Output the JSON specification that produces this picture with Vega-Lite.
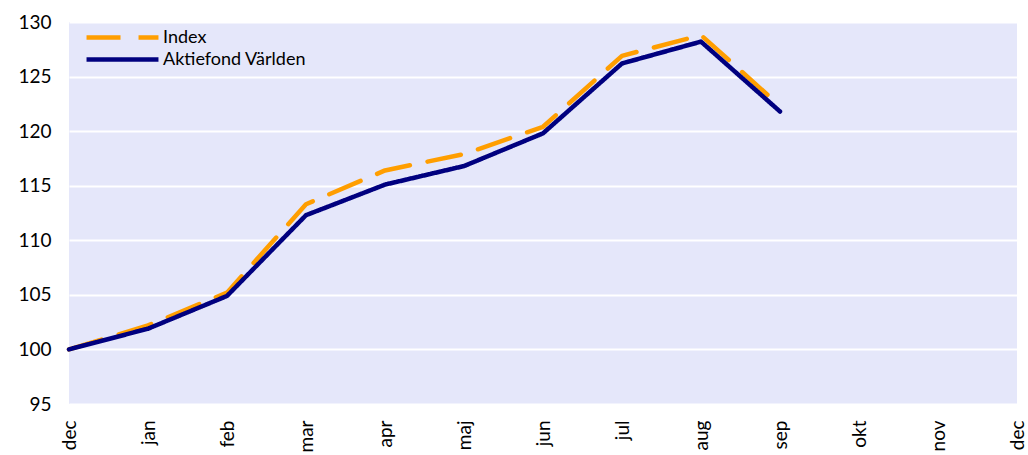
{
  "$schema": "https://vega.github.io/schema/vega-lite/v6.json",
  "autosize": {"type": "none"},
  "padding": {"left": 69, "top": 22, "right": 11, "bottom": 51},
  "width": 948,
  "height": 382,
  "background": "white",
  "view": {"fill": "#E5E7FA", "stroke": null},
  "data": {
    "values": [
      {"t": 0, "serie": "Index", "v": 100.0},
      {"t": 1, "serie": "Index", "v": 102.2},
      {"t": 2, "serie": "Index", "v": 105.2},
      {"t": 3, "serie": "Index", "v": 113.3},
      {"t": 4, "serie": "Index", "v": 116.4},
      {"t": 5, "serie": "Index", "v": 117.9},
      {"t": 6, "serie": "Index", "v": 120.4},
      {"t": 7, "serie": "Index", "v": 126.9},
      {"t": 8, "serie": "Index", "v": 128.8},
      {"t": 9, "serie": "Index", "v": 122.3},
      {"t": 0, "serie": "Aktiefond Världen", "v": 100.0},
      {"t": 1, "serie": "Aktiefond Världen", "v": 101.9},
      {"t": 2, "serie": "Aktiefond Världen", "v": 104.9},
      {"t": 3, "serie": "Aktiefond Världen", "v": 112.3},
      {"t": 4, "serie": "Aktiefond Världen", "v": 115.1},
      {"t": 5, "serie": "Aktiefond Världen", "v": 116.8},
      {"t": 6, "serie": "Aktiefond Världen", "v": 119.8},
      {"t": 7, "serie": "Aktiefond Världen", "v": 126.2},
      {"t": 8, "serie": "Aktiefond Världen", "v": 128.2},
      {"t": 9, "serie": "Aktiefond Världen", "v": 121.8}
    ]
  },
  "mark": {"type": "line", "strokeWidth": 4.5, "strokeCap": "round", "strokeJoin": "round"},
  "encoding": {
    "x": {
      "field": "t", "type": "quantitative",
      "scale": {"domain": [0, 12], "nice": false, "zero": false},
      "axis": {
        "title": null, "values": [0,1,2,3,4,5,6,7,8,9,10,11,12],
        "labelExpr": "['dec','jan','feb','mar','apr','maj','jun','jul','aug','sep','okt','nov','dec'][datum.value]",
        "labelAngle": -90, "labelAlign": "right", "labelBaseline": "middle",
        "labelPadding": 16, "labelFont": "Lato", "labelFontSize": 19, "labelColor": "#000000",
        "ticks": false, "domain": false, "grid": false
      }
    },
    "y": {
      "field": "v", "type": "quantitative",
      "scale": {"domain": [95, 130], "nice": false, "zero": false},
      "axis": {
        "title": null, "values": [95,100,105,110,115,120,125,130],
        "labelFont": "Lato", "labelFontSize": 19, "labelColor": "#000000", "labelPadding": 18,
        "ticks": false, "domain": false,
        "grid": true, "gridColor": "#FFFFFF", "gridWidth": 2, "gridOpacity": 1
      }
    },
    "color": {
      "field": "serie", "type": "nominal",
      "scale": {"domain": ["Index", "Aktiefond Världen"], "range": ["#FF9E00", "#00007F"]},
      "legend": {
        "title": null, "orient": "none", "legendX": 44, "legendY": 6,
        "symbolType": "M-5,0H5", "symbolSize": 207, "symbolStrokeWidth": 4.5,
        "labelFont": "Lato", "labelFontSize": 18, "labelColor": "#000000",
        "rowPadding": 3, "labelOffset": 31, "padding": 0
      }
    },
    "strokeDash": {
      "field": "serie", "type": "nominal",
      "scale": {"domain": ["Index", "Aktiefond Världen"], "range": [[34, 18], [1, 0]]},
      "legend": null
    }
  }
}
